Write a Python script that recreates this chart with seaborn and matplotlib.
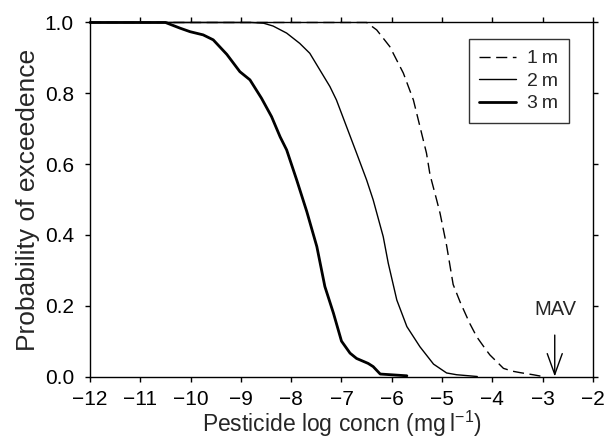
import numpy as np
import pandas as pd
import matplotlib
matplotlib.use("Agg")
import matplotlib.pyplot as plt
import seaborn as sns

# ---- data ----
depth_labels = ["1\u2009m", "2\u2009m", "3\u2009m"]

x_1m = [-12, -6.5, -6.3, -6.04, -5.77, -5.57, -5.44, -5.31, -5.24, -5.11, -5.04, -4.91,
        -4.78, -4.64, -4.45, -4.31, -4.15, -4.05, -3.9, -3.78, -3.6, -3.45, -3.19, -3.0]
y_1m = [1.0, 1.0, 0.979, 0.932, 0.857, 0.781, 0.706, 0.631, 0.57, 0.50, 0.461, 0.37,
        0.26, 0.21, 0.15, 0.112, 0.08, 0.061, 0.04, 0.023, 0.015, 0.011, 0.005, 0.0]

x_2m = [-12, -8.8, -8.55, -8.36, -8.09, -7.83, -7.63, -7.43, -7.23, -7.10, -6.90, -6.70,
        -6.50, -6.37, -6.17, -6.07, -5.90, -5.70, -5.44, -5.17, -4.91, -4.71, -4.3]
y_2m = [1.0, 1.0, 0.998, 0.99, 0.97, 0.941, 0.913, 0.866, 0.819, 0.781, 0.706, 0.631,
        0.555, 0.499, 0.395, 0.32, 0.216, 0.141, 0.084, 0.035, 0.01, 0.005, 0.0]

x_3m = [-12, -10.5, -10.21, -10.01, -9.75, -9.55, -9.28, -9.02, -8.82, -8.59, -8.39, -8.22,
        -8.09, -7.89, -7.69, -7.49, -7.33, -7.16, -7.0, -6.83, -6.70, -6.47, -6.37, -6.23, -5.7]
y_3m = [1.0, 1.0, 0.984, 0.974, 0.965, 0.951, 0.91, 0.861, 0.838, 0.786, 0.734, 0.677,
        0.64, 0.555, 0.466, 0.367, 0.254, 0.179, 0.10, 0.066, 0.051, 0.037, 0.028, 0.007, 0.002]

mav_x = -2.76
mav_label = "MAV"

x_ticks = list(range(-12, -1))
y_ticks = [0.0, 0.2, 0.4, 0.6, 0.8, 1.0]

# ---- build long-form table ----
frames = []
for lab, xs, ys in zip(depth_labels, [x_1m, x_2m, x_3m], [y_1m, y_2m, y_3m]):
    frames.append(pd.DataFrame({"conc": xs, "prob": ys, "depth": lab}))
df = pd.concat(frames, ignore_index=True)

sns.set_theme(style="ticks")
plt.rcParams["font.family"] = ["Liberation Sans", "DejaVu Sans"]
plt.rcParams["axes.unicode_minus"] = True

fig = plt.figure(figsize=(6.06, 4.40), dpi=100)
ax = fig.add_axes([0.1485, 0.1443, 0.9785 - 0.1485, 0.9489 - 0.1443])

styles = {
    depth_labels[0]: dict(lw=1.0, ls=(0, (8, 4))),
    depth_labels[1]: dict(lw=1.0, ls="-"),
    depth_labels[2]: dict(lw=2.0, ls="-"),
}
for lab in depth_labels:
    sub = df[df["depth"] == lab]
    sns.lineplot(data=sub, x="conc", y="prob", ax=ax, color="black",
                 linewidth=styles[lab]["lw"], linestyle=styles[lab]["ls"],
                 label=lab, clip_on=False, estimator=None, sort=False, zorder=3)

ax.set_xlim(-12, -2)
ax.set_ylim(0, 1)
ax.set_xticks(x_ticks)
ax.set_yticks(y_ticks)
ax.set_yticklabels([f"{v:.1f}" for v in y_ticks])
ax.set_xticklabels([f"\u2212{abs(v)}" for v in x_ticks])

for s in ax.spines.values():
    s.set_visible(True)
    s.set_color("black")
    s.set_linewidth(1.0)

ax.tick_params(axis="both", which="both", direction="out", length=3.6, width=1,
               colors="black", labelsize=15, top=True, right=True,
               labeltop=False, labelright=False)
ax.tick_params(axis="x", pad=6)
ax.tick_params(axis="y", pad=8)

ax.set_xlabel("Pesticide log concn (mg\u2009l$^{\\mathregular{-1}}$)", fontsize=16.5, labelpad=0)
ax.set_ylabel("Probability of exceedence", fontsize=19, labelpad=3)

# MAV arrow
ax.annotate("", xy=(mav_x, 0.0), xytext=(mav_x, 0.117),
            arrowprops=dict(arrowstyle="->,head_length=1.25,head_width=0.45", color="black", lw=1.0,
                            shrinkA=0, shrinkB=0))
ax.text(mav_x + 0.02, 0.19, mav_label, ha="center", va="center", fontsize=14.5)

leg = ax.legend(loc="upper right", bbox_to_anchor=(0.952, 0.953), frameon=True, fancybox=False,
                fontsize=14, handlelength=1.9, handletextpad=0.55, labelspacing=0.25,
                borderpad=0.55, borderaxespad=0)
leg.get_frame().set_edgecolor("black")
leg.get_frame().set_linewidth(1.0)

fig.savefig("out.png", dpi=100)
